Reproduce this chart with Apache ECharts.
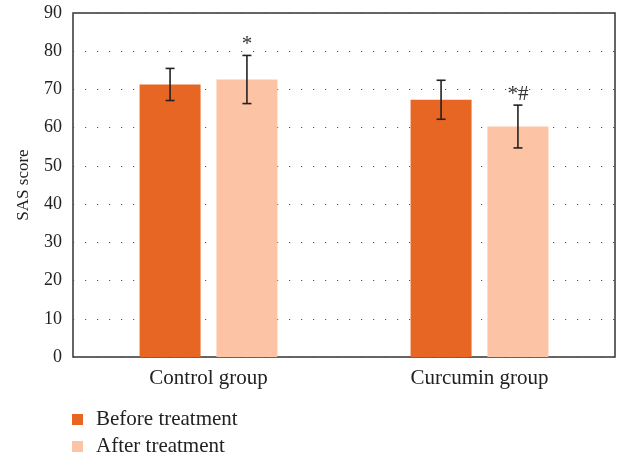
<!DOCTYPE html>
<html>
<head>
<meta charset="utf-8">
<script src="https://cdn.jsdelivr.net/npm/echarts@6/dist/echarts.min.js"></script>
<style>
  html, body { margin: 0; padding: 0; background: #fff; }
  #chart { width: 629px; height: 460px; }
</style>
</head>
<body>
<div id="chart"></div>
<script>
// Groups and SAS scores (mean ± SD)
const categories = ['Control group', 'Curcumin group'];
const seriesNames = ['Before treatment', 'After treatment'];
const beforeMean = [71.3, 67.3];
const beforeSD = [4.2, 5.1];
const afterMean = [72.6, 60.3];
const afterSD = [6.3, 5.6];
const afterMarks = ['*', '*#'];
const yTicks = { min: 0, max: 90, interval: 10 };

const COLORS = ['#E86623', '#FCC3A5'];
const FONT = '"Liberation Serif", "DejaVu Serif", serif';
const BAR_W = 61;
const GAP_RATIO = 0.26;

// x-offset of a bar's centre within its category band
function barOffset(seriesIndex) {
  const half = (BAR_W + BAR_W * GAP_RATIO) / 2;
  return seriesIndex === 0 ? -half : half;
}

function errorSeries(means, sds, seriesIndex, marks) {
  return {
    type: 'custom',
    z: 5,
    data: means.map((m, i) => [i, m, sds[i]]),
    renderItem(params, api) {
      const xi = api.value(0);
      const mean = api.value(1);
      const sd = api.value(2);
      const mark = marks ? marks[params.dataIndex] : '';
      const top = api.coord([xi, mean + sd]);
      const bot = api.coord([xi, mean - sd]);
      const x = top[0] + barOffset(seriesIndex);
      const cap = 4.5;
      const style = { stroke: '#222', lineWidth: 1.6 };
      const children = [
        { type: 'line', shape: { x1: x, y1: top[1], x2: x, y2: bot[1] }, style },
        { type: 'line', shape: { x1: x - cap, y1: top[1], x2: x + cap, y2: top[1] }, style },
        { type: 'line', shape: { x1: x - cap, y1: bot[1], x2: x + cap, y2: bot[1] }, style }
      ];
      if (mark) {
        children.push({
          type: 'text',
          style: {
            x: x, y: top[1] - 11,
            text: mark,
            fill: '#333',
            font: '21px ' + FONT,
            align: 'center',
            verticalAlign: 'middle'
          }
        });
      }
      return { type: 'group', children };
    }
  };
}

const chart = echarts.init(document.getElementById('chart'), null, { renderer: 'canvas' });
chart.setOption({
  animation: false,
  backgroundColor: '#fff',
  textStyle: { fontFamily: FONT },
  grid: {
    left: 73, right: 14, top: 13, bottom: 103,
    show: true, borderColor: '#333', borderWidth: 1.5, backgroundColor: 'transparent'
  },
  legend: {
    orient: 'vertical',
    left: 72, top: 409,
    padding: 0,
    itemWidth: 11, itemHeight: 11, itemGap: 6,
    icon: 'rect',
    data: seriesNames,
    textStyle: { fontFamily: FONT, fontSize: 21, color: '#222', padding: [0, 0, 0, 8] }
  },
  xAxis: {
    type: 'category',
    data: categories,
    axisLine: { show: false },
    axisTick: { show: false },
    axisLabel: { fontFamily: FONT, fontSize: 21, color: '#222', margin: 11 }
  },
  yAxis: {
    type: 'value',
    min: yTicks.min, max: yTicks.max, interval: yTicks.interval,
    name: 'SAS score',
    nameLocation: 'middle',
    nameGap: 41,
    nameTextStyle: { fontFamily: FONT, fontSize: 17, color: '#222' },
    axisLine: { show: false },
    axisTick: { show: false },
    axisLabel: { fontFamily: FONT, fontSize: 18, color: '#222', margin: 11 },
    splitLine: { show: true, lineStyle: { color: '#555', width: 1.2, type: [1.2, 10.8] } }
  },
  series: [
    {
      name: seriesNames[0], type: 'bar', data: beforeMean,
      barWidth: BAR_W, barGap: (GAP_RATIO * 100) + '%',
      itemStyle: { color: COLORS[0] }, z: 2
    },
    {
      name: seriesNames[1], type: 'bar', data: afterMean,
      barWidth: BAR_W, barGap: (GAP_RATIO * 100) + '%',
      itemStyle: { color: COLORS[1] }, z: 2
    },
    errorSeries(beforeMean, beforeSD, 0, null),
    errorSeries(afterMean, afterSD, 1, afterMarks)
  ]
});
</script>
</body>
</html>
